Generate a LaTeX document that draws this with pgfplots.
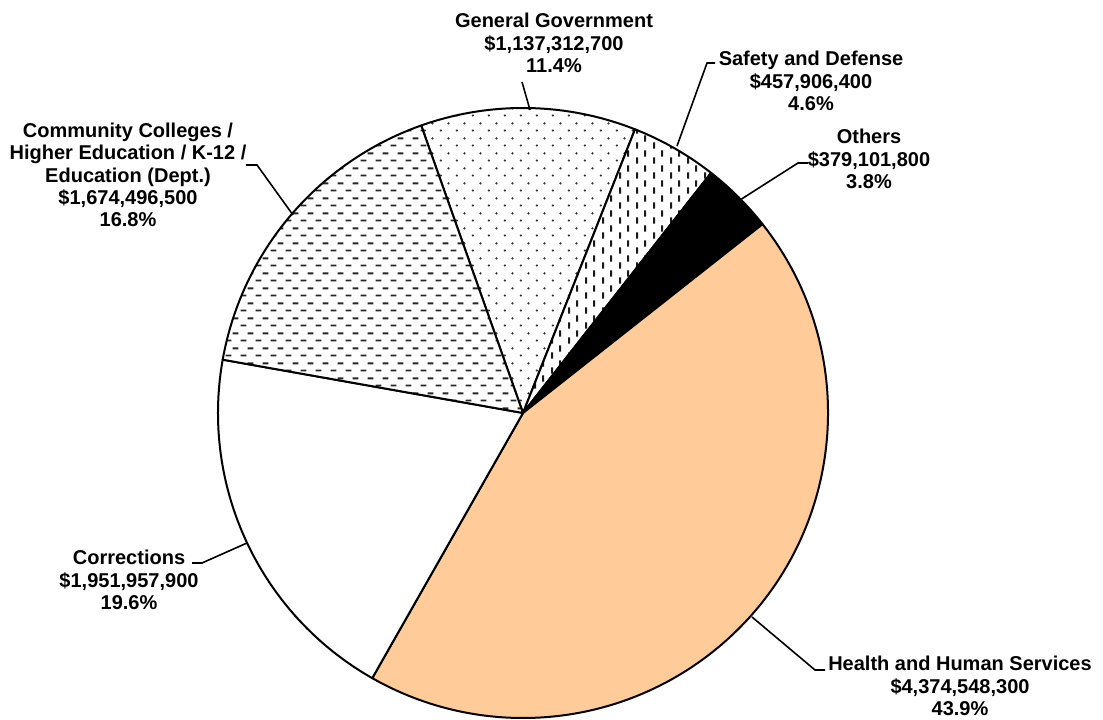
\documentclass[border=0pt]{standalone}
\usepackage{pgfplots}
\pgfplotsset{compat=1.18}
\usepackage{pgfplotstable}
\usepackage{fontspec}
\setmainfont{Liberation Sans}
\usetikzlibrary{patterns.meta}

\definecolor{peach}{RGB}{255,204,153}

% Excel-like fill patterns
\tikzdeclarepattern{
  name=hdash, type=colored,
  bottom left={(0bp,0bp)}, top right={(7.5bp,7.5bp)},
  tile size={(7.5bp,7.5bp)},
  code={
    \draw[line width=1bp, black!85] (0.3bp,1.875bp) -- (3.4bp,1.875bp)
      (4.05bp,5.625bp) -- (7.15bp,5.625bp);
  }
}
\tikzdeclarepattern{
  name=sdots, type=colored,
  bottom left={(0bp,0bp)}, top right={(7.8bp,7.5bp)},
  tile size={(7.8bp,7.5bp)},
  code={
    \fill[black!80] (1.95bp,1.875bp) circle[radius=0.65bp]
      (5.85bp,5.625bp) circle[radius=0.65bp];
  }
}
\tikzdeclarepattern{
  name=vdash, type=colored,
  bottom left={(0bp,0bp)}, top right={(8.3bp,7.5bp)},
  tile size={(8.3bp,7.5bp)},
  code={
    \draw[line width=1bp, black!90] (2.07bp,0.2bp) -- (2.07bp,3.55bp)
      (6.22bp,3.95bp) -- (6.22bp,7.3bp);
  }
}

\tikzset{
  slice0/.style={preaction={fill=white}, pattern=sdots},
  slice1/.style={preaction={fill=white}, pattern=vdash},
  slice2/.style={fill=black},
  slice3/.style={fill=peach},
  slice4/.style={fill=white},
  slice5/.style={preaction={fill=white}, pattern=hdash},
  leader/.style={black, line width=0.8bp, no marks},
}

% value of each slice, clockwise from General Government
\pgfplotstableread{
value
1137312700
457906400
379101800
4374548300
1951957900
1674496500
}\piedata

\newcommand\lbl{\fontsize{10bp}{11.2bp}\selectfont\bfseries}

\begin{document}
\begin{tikzpicture}
\pgfplotstablegetrowsof{\piedata}
\pgfmathtruncatemacro\nrows{\pgfplotsretval-1}
\gdef\total{0}
\foreach \i in {0,...,\nrows}{%
  \pgfplotstablegetelem{\i}{value}\of\piedata
  \xdef\total{\fpeval{\total+\pgfplotsretval}}%
}
\gdef\cumangle{109.5}
\foreach \i in {0,...,\nrows}{%
  \pgfplotstablegetelem{\i}{value}\of\piedata
  \expandafter\xdef\csname sa\i\endcsname{\cumangle}%
  \xdef\cumangle{\fpeval{\cumangle-360*\pgfplotsretval/\total}}%
  \expandafter\xdef\csname ea\i\endcsname{\cumangle}%
}
\begin{axis}[
    x=0.5bp, y=0.5bp,
    xmin=0, xmax=1103, ymin=0, ymax=719,
    hide axis, clip=false,
]
\pgfplotsinvokeforeach{0,...,5}{
  \draw[slice#1, draw=black, line width=1bp, line join=round]
    (axis cs:523,306) -- ++(\csname sa#1\endcsname:152.5bp)
    arc[start angle=\csname sa#1\endcsname, end angle=\csname ea#1\endcsname, radius=152.5bp]
    -- cycle;
}
% leader lines
\addplot[leader] coordinates {(522,637) (530,609)};
\addplot[leader] coordinates {(715,656) (707,656) (677,573)};
\addplot[leader] coordinates {(808,556) (798,556) (740,519)};
\addplot[leader] coordinates {(246,554) (257,554) (293,504)};
\addplot[leader] coordinates {(192,156) (202,156) (247,176)};
\addplot[leader] coordinates {(752,102) (815,49) (825,49)};

\node[align=center, font=\lbl] at (axis cs:554,676) {General Government\\\$1,137,312,700\\11.4\%};
\node[align=center, font=\lbl] at (axis cs:811,638) {Safety and Defense\\\$457,906,400\\4.6\%};
\node[align=center, font=\lbl] at (axis cs:869,560) {Others\\\$379,101,800\\3.8\%};
\node[align=center, font=\lbl] at (axis cs:128,544) {Community Colleges /\\Higher Education / K-12 /\\Education (Dept.)\\\$1,674,496,500\\16.8\%};
\node[align=center, font=\lbl] at (axis cs:129,139) {Corrections\\\$1,951,957,900\\19.6\%};
\node[align=center, font=\lbl] at (axis cs:960,33) {Health and Human Services\\\$4,374,548,300\\43.9\%};
\end{axis}
\pgfresetboundingbox
\path[use as bounding box] (current axis.south west) rectangle (current axis.north east);
\end{tikzpicture}
\end{document}
